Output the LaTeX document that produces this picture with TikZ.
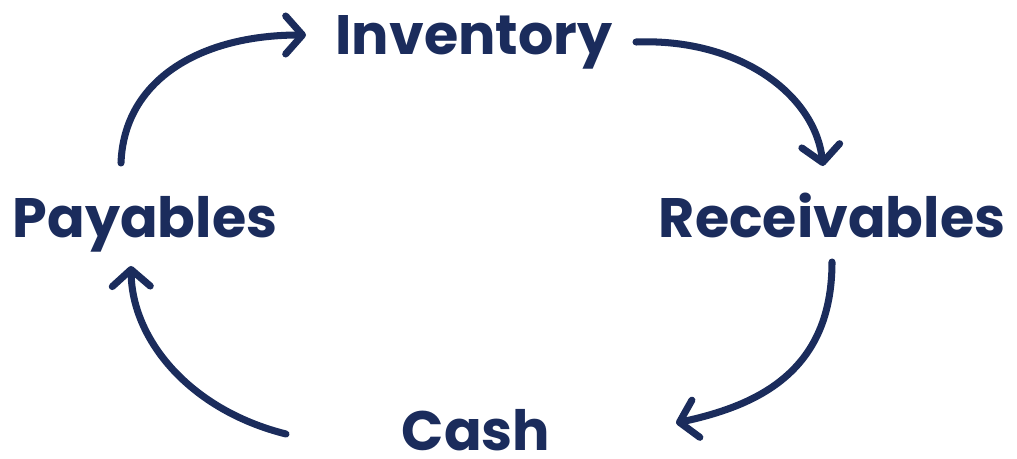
\documentclass[tikz,border=0pt]{standalone}
\usepackage{fontspec}
\setmainfont{Poppins}
\usetikzlibrary{arrows.meta}
\definecolor{navy}{HTML}{1B2C5C}
\tikzset{
  lbl/.style={text=navy, font=\fontsize{39.5}{46}\selectfont\bfseries, anchor=base, inner sep=0pt},
  cyc/.style={draw=navy, line width=5pt, line cap=round, -{Straight Barb[length=0.42cm, width=0.95cm, line cap=round, line join=round]}}
}
\begin{document}
\begin{tikzpicture}[x=0.025cm, y=-0.025cm]
\useasboundingbox (0,0) rectangle (1017,459);
\node[lbl] (inv) at (474,55) {Inventory};
\node[lbl] (pay) at (145,237) {Payables};
\node[lbl] (rec) at (832,237) {Receivables};
\node[lbl] (cash) at (476,450) {Cash};
\coordinate (s1) at (121,163);
\coordinate (e1) at (306,35);
\coordinate (s2) at (636,42);
\coordinate (e2) at (823,166);
\coordinate (s3) at (832,262);
\coordinate (e3) at (676,423);
\coordinate (s4) at (286,434);
\coordinate (e4) at (131,266);
\draw[cyc] (s1) .. controls (124,80) and (200,35) .. (e1);
\draw[cyc] (s2) .. controls (740,38) and (815,95) .. (e2);
\draw[cyc] (s3) .. controls (832,370) and (760,405) .. (e3);
\draw[cyc] (s4) .. controls (190,410) and (132,340) .. (e4);
\end{tikzpicture}
\end{document}
